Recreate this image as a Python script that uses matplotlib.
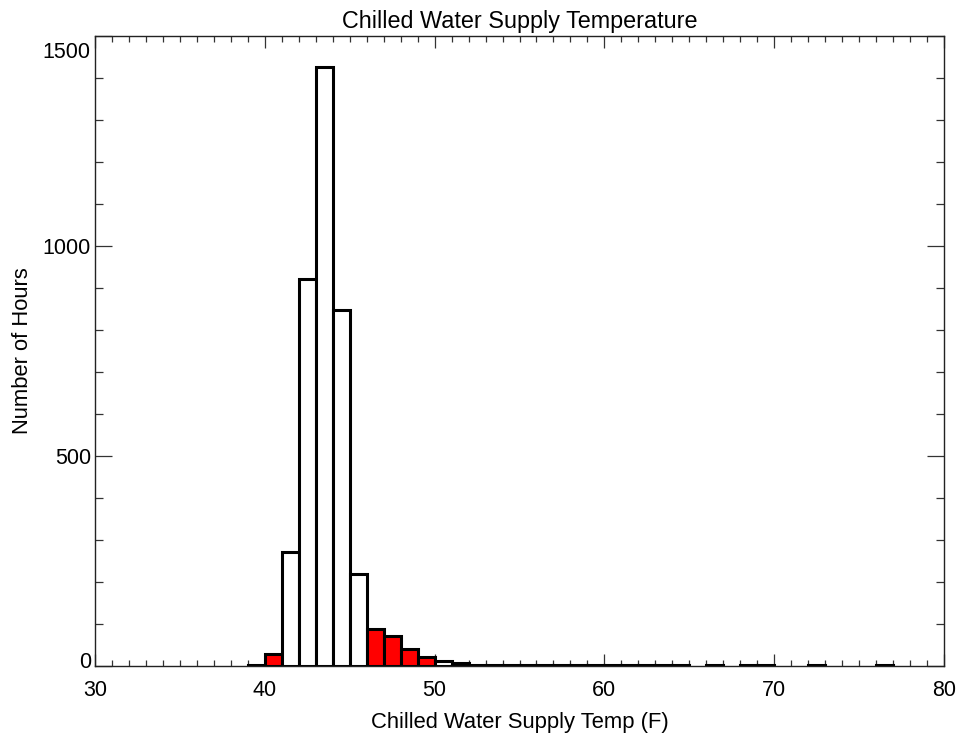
import matplotlib
matplotlib.use("Agg")
import matplotlib.pyplot as plt
from matplotlib.ticker import MultipleLocator
import matplotlib.transforms as mtransforms

plt.rcParams['font.family'] = ['Liberation Sans', 'DejaVu Sans']

# Histogram bins (left edge, deg F) and hour counts
bin_left = [39, 40, 41, 42, 43, 44, 45, 46, 47, 48, 49, 50, 51,
            52, 53, 54, 55, 56, 57, 58, 59, 60, 61, 62, 63, 64,
            66, 68, 69, 72, 76]
hours = [3, 28, 272, 921, 1427, 847, 220, 87, 71, 41, 22, 13, 8,
         2, 2, 2, 2, 2, 2, 2, 2, 2, 2, 2, 2, 2,
         2, 2, 2, 2, 2]
red_bins = [40, 46, 47, 48, 49]

x_ticks = [30, 40, 50, 60, 70, 80]
y_ticks = [0, 500, 1000, 1500]

colors = ['#ff0000' if b in red_bins else 'white' for b in bin_left]

fig = plt.figure(figsize=(9.59, 7.38), dpi=100)
ax = fig.add_axes([95/959, 1-666/738, (944-95)/959, (666-36)/738])

ax.bar(bin_left, hours, width=1.0, align='edge', color=colors,
       edgecolor='black', linewidth=2.2, zorder=2)

ax.set_xlim(30, 80)
ax.set_ylim(0, 1500)
ax.set_xticks(x_ticks)
ax.set_yticks(y_ticks)
ax.xaxis.set_minor_locator(MultipleLocator(1))
ax.yaxis.set_minor_locator(MultipleLocator(100))

ax.tick_params(axis='x', which='major', direction='in', length=8.6, width=0.9,
               top=True, bottom=True, labelsize=15.5, pad=10, color='#333333')
ax.tick_params(axis='x', which='minor', direction='in', length=4.2, width=0.9,
               top=True, bottom=True, color='#333333')
ax.tick_params(axis='y', which='major', direction='in', length=12, width=0.9,
               left=True, right=True, labelsize=15.5, pad=3, color='#333333')
ax.tick_params(axis='y', which='minor', direction='in', length=6, width=0.9,
               left=True, right=True, color='#333333')

for s in ax.spines.values():
    s.set_linewidth(1.0)
    s.set_color('#222222')

# IDL-style: end labels nudged inside
labels = ax.get_yticklabels()
labels[0].set_transform(labels[0].get_transform() +
                        mtransforms.ScaledTranslation(0, 6/100, fig.dpi_scale_trans))
labels[-1].set_transform(labels[-1].get_transform() +
                         mtransforms.ScaledTranslation(0, -14/100, fig.dpi_scale_trans))

ax.set_title('Chilled Water Supply Temperature', fontsize=16.8, pad=6)
ax.set_xlabel('Chilled Water Supply Temp (F)', fontsize=15.8, labelpad=8)
ax.set_ylabel('Number of Hours', fontsize=15.8, labelpad=7)

fig.savefig('out.png', dpi=100)
